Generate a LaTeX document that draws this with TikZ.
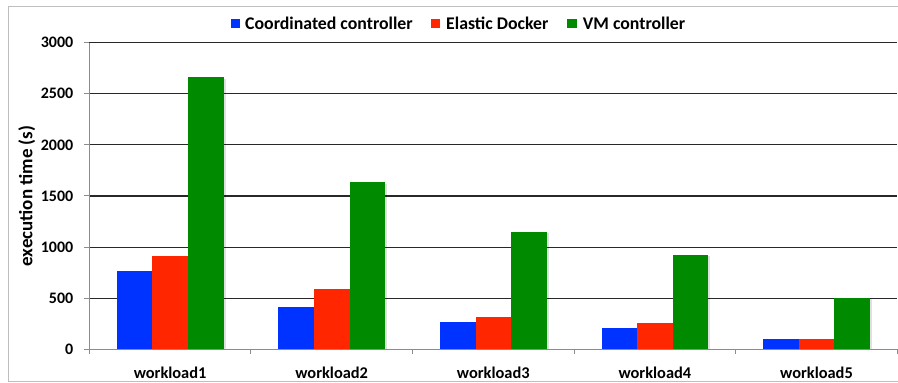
\documentclass[tikz,border=0pt]{standalone}
\usepackage{fontspec}
\setmainfont{Carlito}
\definecolor{cblue}{RGB}{0,51,255}
\definecolor{cred}{RGB}{255,38,0}
\definecolor{cgreen}{RGB}{0,138,0}
\definecolor{gridc}{RGB}{40,40,40}
\definecolor{axisc}{RGB}{140,140,140}
\definecolor{framec}{RGB}{190,190,190}
\tikzset{
  gridline/.style={draw=gridc, line width=1.1pt},
  axisline/.style={draw=axisc, line width=1pt},
  ticklab/.style={font=\bfseries\fontsize{16}{18}\selectfont, inner sep=0pt},
  catlab/.style={font=\bfseries\fontsize{16.4}{18}\selectfont, inner sep=0pt},
  leglab/.style={font=\bfseries\fontsize{17.8}{20}\selectfont, inner sep=0pt, anchor=base west},
  barshadow/.style={fill=black, opacity=0.12},
}
\begin{document}
\begin{tikzpicture}[x=1pt,y=-1pt]
\useasboundingbox (0,0) rectangle (898,383);
% chart frame
\draw[framec, line width=1pt] (898,6.5) -- (8,6.5) -- (8,381.5) -- (898,381.5);

% scale: 0 at y=349.3, 51.1 per 500
\def\yz{349.3}
\def\ys{0.1022}

% horizontal grid lines with value labels
\foreach \v in {500,1000,...,3000} {
  \pgfmathsetmacro{\yy}{\yz-\v*\ys}
  \draw[gridline] (89.3,\yy) -- (897,\yy);
  \draw[axisline] (84,\yy) -- (89.3,\yy);
  \node[ticklab, anchor=east] (lab\v) at (73.5,\yy) {\v};
}
\node[ticklab, anchor=east] (lab0) at (73.5,\yz) {0};

% bars: blue, red, green per workload
\def\bw{35.6}
\foreach \i/\a/\b/\c in {0/763/913/2664, 1/414/587/1634, 2/267/319/1151, 3/211/254/923, 4/104/104/505} {
  \pgfmathsetmacro{\xo}{89.3+\i*161.6+27.4}
  \pgfmathsetmacro{\xa}{\xo+\bw}
  \pgfmathsetmacro{\xb}{\xo+2*\bw}
  \pgfmathsetmacro{\xc}{\xo+3*\bw}
  \pgfmathsetmacro{\ya}{\yz-\a*\ys}
  \pgfmathsetmacro{\yb}{\yz-\b*\ys}
  \pgfmathsetmacro{\yc}{\yz-\c*\ys}
  \fill[barshadow] (\xo+1.5,\ya+1.5) rectangle (\xa+1.5,\yz);
  \fill[barshadow] (\xa+1.5,\yb+1.5) rectangle (\xb+1.5,\yz);
  \fill[barshadow] (\xb+1.5,\yc+1.5) rectangle (\xc+2,\yz);
  \fill[cblue] (\xo,\ya) rectangle (\xa,\yz);
  \fill[cred] (\xa,\yb) rectangle (\xb,\yz);
  \fill[cgreen] (\xb,\yc) rectangle (\xc,\yz);
}

% axes
\draw[axisline] (89.3,42.7) -- (89.3,\yz);
\draw[axisline] (84,\yz) -- (897,\yz);
\foreach \i in {0,...,5} {
  \draw[axisline] (89.3+\i*161.6,\yz) -- (89.3+\i*161.6,\yz+5);
}

% category labels
\foreach \i in {1,...,5} {
  \node[catlab] (w\i) at (89.3+\i*161.6-80.8,372.5) {workload\i};
}

% axis title
\node[font=\bfseries\fontsize{19}{20}\selectfont, rotate=90, inner sep=0pt] (ytitle) at (26.7,196) {execution time (s)};

% legend
\fill[cblue] (231,19) rectangle (240,28);
\node[leglab] (l1) at (245,29.3) {Coordinated controller};
\fill[cred] (431,19) rectangle (440,28);
\node[leglab] (l2) at (446,29.3) {Elastic Docker};
\fill[cgreen] (567.3,19) rectangle (577,28);
\node[leglab] (l3) at (582.7,29.3) {VM controller};
\end{tikzpicture}
\end{document}
